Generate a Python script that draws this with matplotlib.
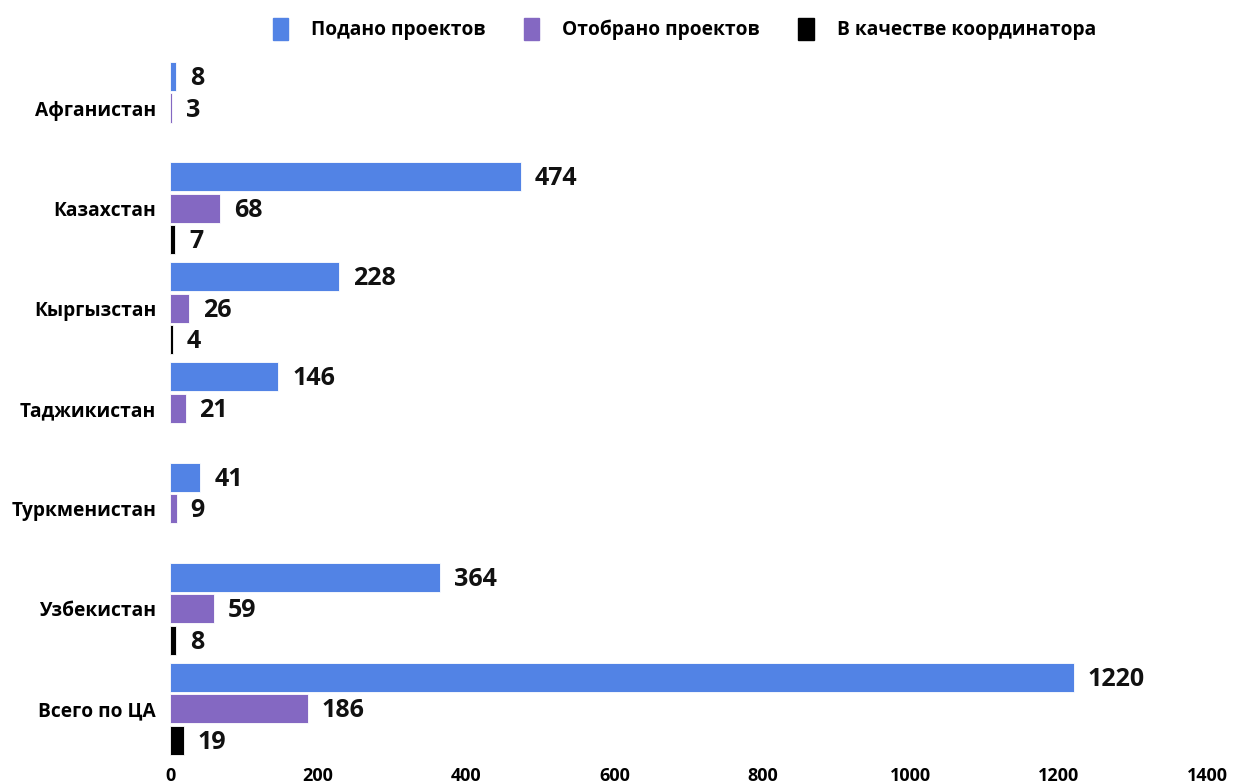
import numpy as np
import matplotlib
matplotlib.use("Agg")
import matplotlib.pyplot as plt
from matplotlib.patches import Patch

plt.rcParams['font.family'] = ['Open Sans', 'DejaVu Sans']

countries = ["Афганистан", "Казахстан", "Кыргызстан", "Таджикистан",
             "Туркменистан", "Узбекистан", "Всего по ЦА"]
submitted = [8, 474, 228, 146, 41, 364, 1220]
selected = [3, 68, 26, 21, 9, 59, 186]
coordinator = [None, 7, 4, None, None, 8, 19]

series_names = ["Подано проектов", "Отобрано проектов", "В качестве координатора"]
colors = ["#5283E5", "#8468C2", "#000000"]
xticks = [0, 200, 400, 600, 800, 1000, 1200, 1400]

fig = plt.figure(figsize=(12.33, 7.83), dpi=100)
ax = fig.add_axes([0.1379, 0.0307, 0.979 - 0.1379, 0.926 - 0.0307])

y = np.arange(len(countries))
slot = 0.315
h = 0.29
for k, (vals, col) in enumerate(zip([submitted, selected, coordinator], colors)):
    for i, v in enumerate(vals):
        if v is None:
            continue
        yy = y[i] + (k - 1) * slot
        ax.barh(yy, v, height=h, color=col, edgecolor="white", linewidth=0.6)
        ax.annotate(str(v), (v, yy), xytext=(10, -1.5), textcoords="offset points",
                    ha="left", va="center", fontsize=18, fontweight="bold",
                    color="#111111")

ax.set_ylim(len(countries) - 0.5, -0.5)
ax.set_xlim(0, 1400)
ax.set_yticks(y)
ax.set_yticklabels(countries, fontsize=13.8, fontweight="bold")
ax.set_xticks(xticks)
ax.set_xticklabels([str(t) for t in xticks], fontsize=13, fontweight="bold")
ax.tick_params(length=0, pad=10)
ax.tick_params(axis="x", pad=6)
for s in ax.spines.values():
    s.set_visible(False)

handles = [Patch(facecolor=c, edgecolor=c) for c in colors]
fig.legend(handles, series_names, loc="upper center", bbox_to_anchor=(0.555, 0.999),
           ncol=3, frameon=False, prop={"weight": "bold", "size": 13.8},
           handlelength=0.8, handleheight=1.4, columnspacing=2.0, handletextpad=1.2)

fig.savefig("out.png", dpi=100)
